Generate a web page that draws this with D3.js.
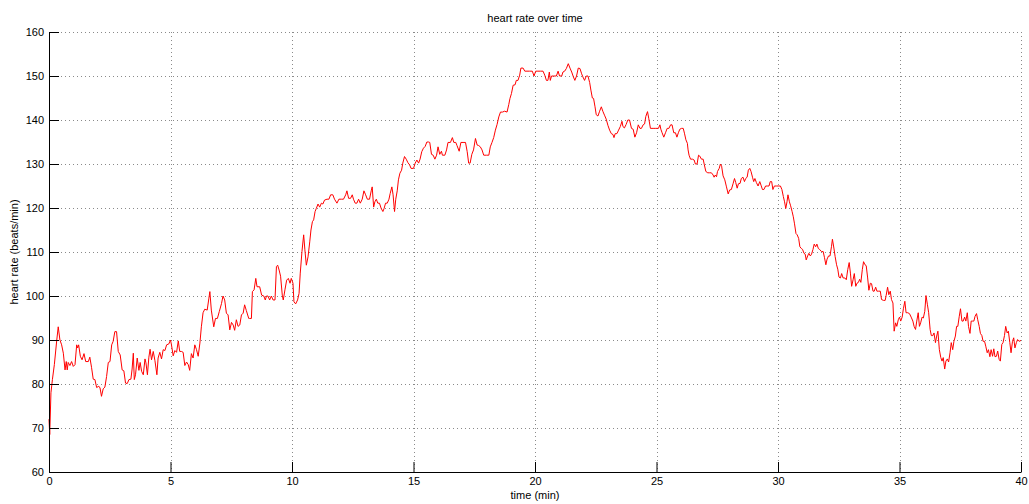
<!DOCTYPE html>
<html>
<head>
<meta charset="utf-8">
<script src="https://cdn.jsdelivr.net/npm/d3@7"></script>
<style>
  html, body { margin: 0; padding: 0; background: #fff; }
  svg { display: block; font-family: "Liberation Sans", Arial, Helvetica, sans-serif; }
</style>
</head>
<body>
<svg id="chart" width="1029" height="504"></svg>
<script>
// Heart rate recording: time in minutes and beats per minute
const timeMin = [
  0, 0.03, 0.08, 0.14, 0.22, 0.32, 0.38, 0.45, 0.52, 0.59, 0.66, 0.71, 0.75, 0.79, 0.86, 0.93, 1.0, 1.07, 1.14, 1.18,
  1.22, 1.29, 1.36, 1.44, 1.51, 1.62, 1.68, 1.75, 1.82, 1.89, 1.96, 2.05, 2.1, 2.16, 2.23, 2.3, 2.37, 2.44, 2.51, 2.58,
  2.64, 2.71, 2.78, 2.85, 2.93, 3.01, 3.08, 3.15, 3.22, 3.29, 3.37, 3.42, 3.47, 3.51, 3.56, 3.63, 3.7, 3.75, 3.81, 3.88,
  3.95, 3.99, 4.05, 4.11, 4.16, 4.22, 4.29, 4.36, 4.44, 4.49, 4.56, 4.63, 4.7, 4.77, 4.84, 4.93, 5.0, 5.04, 5.11, 5.18,
  5.25, 5.32, 5.38, 5.45, 5.52, 5.59, 5.66, 5.73, 5.79, 5.86, 5.93, 6.0, 6.07, 6.14, 6.21, 6.27, 6.34, 6.41, 6.51, 6.58,
  6.62, 6.68, 6.78, 6.85, 6.93, 7.01, 7.1, 7.16, 7.23, 7.3, 7.37, 7.44, 7.51, 7.58, 7.64, 7.71, 7.78, 7.85, 7.92, 7.99,
  8.05, 8.12, 8.22, 8.26, 8.33, 8.37, 8.44, 8.51, 8.56, 8.67, 8.75, 8.84, 8.9, 8.95, 9.01, 9.08, 9.15, 9.22, 9.3, 9.36,
  9.41, 9.47, 9.53, 9.6, 9.64, 9.71, 9.78, 9.85, 9.92, 9.97, 10.04, 10.08, 10.15, 10.23, 10.29, 10.34, 10.41, 10.48, 10.53, 10.59,
  10.66, 10.73, 10.78, 10.84, 10.89, 10.95, 11.0, 11.07, 11.14, 11.21, 11.27, 11.34, 11.44, 11.52, 11.59, 11.68, 11.75, 11.85, 11.93, 12.03,
  12.12, 12.21, 12.26, 12.33, 12.41, 12.48, 12.53, 12.6, 12.67, 12.74, 12.81, 12.89, 12.96, 13.03, 13.1, 13.19, 13.26, 13.3, 13.36, 13.41,
  13.47, 13.53, 13.6, 13.67, 13.74, 13.79, 13.85, 13.92, 13.99, 14.04, 14.11, 14.16, 14.22, 14.27, 14.33, 14.38, 14.44, 14.51, 14.56, 14.63,
  14.7, 14.77, 14.84, 14.9, 15.0, 15.07, 15.14, 15.21, 15.27, 15.34, 15.41, 15.48, 15.55, 15.62, 15.67, 15.74, 15.81, 15.88, 15.95, 16.01,
  16.08, 16.15, 16.19, 16.29, 16.36, 16.42, 16.52, 16.6, 16.66, 16.74, 16.79, 16.88, 16.95, 17.04, 17.14, 17.21, 17.27, 17.33, 17.4, 17.47,
  17.55, 17.62, 17.68, 17.75, 17.82, 17.89, 18.0, 18.1, 18.16, 18.23, 18.3, 18.37, 18.44, 18.51, 18.58, 18.66, 18.75, 18.85, 18.92, 18.97,
  19.03, 19.1, 19.18, 19.23, 19.3, 19.37, 19.42, 19.51, 19.58, 19.67, 19.78, 19.89, 19.96, 20.03, 20.12, 20.23, 20.33, 20.4, 20.47, 20.53,
  20.59, 20.63, 20.68, 20.77, 20.88, 20.95, 21.01, 21.1, 21.15, 21.22, 21.29, 21.37, 21.44, 21.51, 21.58, 21.64, 21.71, 21.78, 21.85, 21.92,
  21.97, 22.04, 22.11, 22.18, 22.25, 22.3, 22.36, 22.41, 22.47, 22.52, 22.59, 22.66, 22.73, 22.79, 22.86, 22.93, 23.0, 23.07, 23.14, 23.21,
  23.25, 23.3, 23.37, 23.44, 23.51, 23.58, 23.62, 23.68, 23.75, 23.82, 23.89, 23.97, 24.04, 24.11, 24.18, 24.25, 24.32, 24.38, 24.45, 24.51,
  24.56, 24.63, 24.68, 24.75, 24.86, 24.97, 25.08, 25.14, 25.18, 25.23, 25.3, 25.37, 25.44, 25.51, 25.58, 25.64, 25.71, 25.78, 25.84, 25.9,
  25.96, 26.03, 26.1, 26.15, 26.21, 26.27, 26.3, 26.34, 26.4, 26.48, 26.55, 26.6, 26.67, 26.73, 26.78, 26.85, 26.92, 26.97, 27.03, 27.11,
  27.19, 27.26, 27.33, 27.37, 27.42, 27.47, 27.51, 27.58, 27.63, 27.68, 27.74, 27.81, 27.88, 27.95, 28.01, 28.08, 28.15, 28.21, 28.26, 28.32,
  28.37, 28.44, 28.49, 28.56, 28.62, 28.67, 28.73, 28.78, 28.84, 28.89, 28.95, 29.0, 29.05, 29.11, 29.18, 29.25, 29.3, 29.36, 29.42, 29.49,
  29.56, 29.63, 29.68, 29.74, 29.79, 29.85, 29.93, 30.01, 30.1, 30.16, 30.22, 30.27, 30.32, 30.37, 30.41, 30.47, 30.52, 30.58, 30.63, 30.68,
  30.74, 30.79, 30.85, 30.9, 30.96, 31.01, 31.07, 31.12, 31.16, 31.22, 31.27, 31.33, 31.38, 31.44, 31.49, 31.55, 31.6, 31.66, 31.71, 31.79,
  31.86, 31.91, 31.97, 32.02, 32.08, 32.14, 32.2, 32.24, 32.3, 32.35, 32.41, 32.46, 32.51, 32.57, 32.62, 32.68, 32.75, 32.81, 32.87, 32.93,
  32.98, 33.03, 33.09, 33.14, 33.2, 33.25, 33.31, 33.36, 33.41, 33.47, 33.52, 33.58, 33.63, 33.69, 33.74, 33.8, 33.85, 33.91, 33.96, 34.02,
  34.07, 34.13, 34.21, 34.26, 34.34, 34.41, 34.45, 34.51, 34.56, 34.62, 34.67, 34.73, 34.78, 34.84, 34.89, 34.95, 35.0, 35.05, 35.11, 35.16,
  35.22, 35.27, 35.34, 35.41, 35.48, 35.55, 35.6, 35.66, 35.71, 35.77, 35.82, 35.87, 35.93, 35.98, 36.04, 36.09, 36.15, 36.2, 36.26, 36.31,
  36.37, 36.42, 36.48, 36.53, 36.58, 36.64, 36.7, 36.75, 36.8, 36.86, 36.91, 36.97, 37.02, 37.08, 37.13, 37.19, 37.24, 37.3, 37.35, 37.4,
  37.46, 37.51, 37.57, 37.62, 37.68, 37.73, 37.79, 37.84, 37.9, 37.95, 38.01, 38.06, 38.11, 38.17, 38.22, 38.28, 38.33, 38.39, 38.44, 38.5,
  38.55, 38.61, 38.66, 38.72, 38.77, 38.83, 38.88, 38.93, 38.99, 39.04, 39.1, 39.15, 39.21, 39.26, 39.32, 39.37, 39.43, 39.48, 39.54, 39.59,
  39.65, 39.7, 39.75, 39.81, 39.86, 39.92, 40.0
];
const heartRate = [
  72, 68.5, 78, 81, 84.4, 90, 93, 90, 88.9, 87, 83.2, 85.1, 83.2, 84.9, 84.2, 85.1, 84, 84.4, 88.9, 88.2,
  88.9, 86.3, 85.5, 86.9, 85.1, 85.1, 86.1, 83.8, 81.1, 81, 79.2, 79.5, 79.1, 77.2, 78.9, 79.3, 81.7, 84.9, 85.1, 88.9,
  89.7, 91.9, 91.9, 87.4, 86.6, 83.2, 83, 80.2, 80.1, 81, 81.1, 83.4, 87, 81, 82.1, 85.9, 83.1, 84.9, 82.9, 82.1,
  85.7, 84.8, 82.1, 86.1, 87.9, 85.5, 87.4, 85.3, 82.1, 85.9, 87.2, 85.7, 87.8, 87.6, 88.9, 89.1, 90, 88.9, 86.4, 87.6,
  87.2, 89.8, 87.4, 87.4, 87.2, 84.2, 85, 84.4, 83.1, 86.9, 85.9, 88.9, 87.8, 86.3, 89.3, 93, 96.2, 97, 96.8, 99.5,
  101, 96.8, 93, 94.9, 94.9, 96.5, 98.3, 100, 99.1, 96.1, 95.7, 92.3, 94, 93.4, 92.2, 94.6, 93.1, 93.4, 95.7, 96.1,
  98, 96.7, 94.9, 94.9, 94.9, 101, 101.4, 104, 102.1, 102.1, 100.2, 100, 99.1, 100, 100, 99.1, 100, 99.1, 99.1, 106.7,
  107, 105.9, 104.5, 100.2, 99.1, 101.4, 103.6, 104, 102.9, 104, 102.9, 98.7, 98.2, 99.1, 100.6, 105.2, 110.1, 113.9, 110.5, 107,
  108.9, 112.3, 115, 116.9, 117.3, 119.2, 119.9, 120.9, 120.2, 121.1, 120.9, 121.8, 122, 122, 123, 123, 122, 121.1, 122, 122,
  122, 123, 123.9, 122.2, 122.2, 123, 122, 121.1, 121.1, 122, 121.1, 122, 123.9, 123, 122, 122, 123.9, 124.8, 120.2, 121.4,
  122, 121.1, 121.1, 119.9, 119.2, 119.9, 121.1, 121.1, 122, 123.3, 124.8, 123, 119.2, 122, 123.9, 126.4, 127.9, 128.6, 130.2, 131.7,
  131.1, 130.3, 129.8, 129, 129, 130.2, 130.9, 130.2, 131.1, 132.8, 133.6, 134, 135, 135, 134.9, 132.2, 132, 131.1, 132, 133.9,
  132.2, 132.9, 132, 132, 133.2, 134.9, 134.9, 136, 134.9, 134.9, 134.2, 132.9, 134.9, 134.9, 134.9, 132.8, 130.2, 130.2, 132.2, 133.2,
  135.8, 134.3, 134.2, 133.9, 133.2, 132, 132, 132, 133.9, 134.9, 136, 137.7, 139, 140.7, 141.8, 141.8, 142, 141.8, 143.5, 144.9,
  146, 147.9, 148, 149, 149, 150.2, 151.8, 151.8, 151.1, 151.1, 151.1, 151.1, 150, 151.1, 151.1, 151.1, 151.1, 150.2, 149, 149,
  150.9, 149, 150, 150, 150, 151.1, 150, 150, 150.9, 151.1, 151.7, 152.8, 151.8, 150.9, 149.8, 149, 150, 151.8, 151.7, 150.5,
  149.8, 149, 150, 150, 148.5, 146.8, 145, 144.9, 143, 141.2, 140.9, 142, 143, 142, 141.1, 140.2, 138.8, 137.7, 136.9, 136.7,
  136, 136.9, 136.9, 137.7, 138.5, 139.7, 138.5, 138.2, 139, 140, 140, 138.1, 137.9, 136.1, 137.1, 138.9, 138.1, 138.1, 138.9, 139.1,
  140.8, 141.9, 140.4, 138.1, 138.1, 138.1, 138.1, 138.9, 137.9, 137.1, 136.1, 137.1, 138.1, 138.1, 138.9, 138.9, 137.1, 137.1, 136.1, 137.1,
  137.9, 138.1, 138.1, 137, 135.5, 134.7, 133.2, 132, 131.1, 131.1, 130.9, 130, 130, 132, 131.8, 131.1, 131.1, 129.8, 128.3, 128,
  128, 128, 127.5, 127, 127.5, 127.1, 128.3, 129, 130, 129.5, 127.3, 126.4, 124.8, 123.2, 124.1, 124.2, 125.5, 126.7, 125.8, 124.5,
  125.5, 125.6, 126.7, 127, 126, 126.7, 127, 128.6, 129, 128.3, 127, 126, 126.7, 125.8, 125, 126, 125.2, 124.2, 124.2, 125,
  125, 125, 126, 126, 124.2, 125, 125, 125, 125, 124.2, 122.6, 121.4, 119.9, 121.4, 123, 121.4, 120.5, 119.2, 118, 116.4,
  114.2, 113.9, 113.1, 111.2, 110.8, 110.6, 109.7, 109.5, 108.2, 109.1, 109.7, 109.1, 109.5, 110.6, 111.8, 111.2, 111.8, 110.8, 110.6, 110.1,
  110.1, 108.8, 107.1, 108.4, 109.1, 109.1, 111.2, 112.9, 110.9, 109, 107.1, 106.1, 104.3, 104.1, 105.1, 104.1, 104.1, 103.7, 106, 107.6,
  105.2, 102.2, 103.7, 105.1, 102.2, 102.9, 103.1, 103.8, 103.1, 106, 107.8, 107.1, 106.9, 104.1, 101.3, 102.9, 102.8, 101.1, 101.1, 102,
  101.1, 101.1, 101.1, 99.2, 99, 99, 100.1, 102, 100.3, 101.1, 99.2, 98.4, 92, 93.9, 93.1, 94.6, 95.2, 94.3, 95.2, 97.1,
  98.8, 96.2, 96.2, 96, 95.2, 94.3, 93.1, 92.4, 94.3, 96.2, 93.1, 93.9, 95.2, 95, 96.5, 100.1, 98, 96.2, 92.4, 91,
  91, 91.6, 89.4, 90.9, 92, 87.8, 86, 85.2, 86, 83.4, 85.2, 85.7, 85, 87.1, 89.4, 87.8, 89.7, 90.9, 93.1, 93.1,
  95.4, 97.1, 94.3, 94.3, 95.2, 94.3, 96.2, 93.1, 91.5, 94.3, 94.3, 94.3, 95.4, 96, 94.6, 93.1, 91.5, 91, 89.7, 89.7,
  88.6, 87.1, 87.8, 86.2, 87.8, 86.3, 88, 86.2, 86.3, 87.5, 85.6, 85.2, 89, 89.4, 91, 93.1, 91.6, 92, 89.4, 87.1,
  89.7, 90.5, 88.2, 89.4, 90.1, 89.7, 89.9
];

const xTicks = [0, 5, 10, 15, 20, 25, 30, 35, 40];
const yTicks = [60, 70, 80, 90, 100, 110, 120, 130, 140, 150, 160];

const titleText = "heart rate over time";
const xLabelText = "time (min)";
const yLabelText = "heart rate (beats/min)";

const svg = d3.select("#chart");
const W = 1029, H = 504;
const margin = { left: 49, right: 8, top: 32, bottom: 32 };
const plotW = W - margin.left - margin.right;
const plotH = H - margin.top - margin.bottom;

const x = d3.scaleLinear().domain([0, 40]).range([0, plotW]);
const y = d3.scaleLinear().domain([60, 160]).range([plotH, 0]);

const g = svg.append("g").attr("transform", `translate(${margin.left},${margin.top})`);

// dotted grid
const grid = g.append("g").attr("stroke", "#8a8a8a").attr("stroke-width", 1)
  .attr("stroke-dasharray", "1,3").attr("shape-rendering", "crispEdges");
grid.selectAll("line.gx").data(xTicks.filter(d => d > 0)).join("line")
  .attr("x1", d => Math.round(x(d)) + 0.5).attr("x2", d => Math.round(x(d)) + 0.5)
  .attr("y1", 0).attr("y2", plotH);
grid.selectAll("line.gy").data(yTicks.filter(d => d > 60)).join("line")
  .attr("y1", d => Math.round(y(d)) + 0.5).attr("y2", d => Math.round(y(d)) + 0.5)
  .attr("x1", 0).attr("x2", plotW);

// heart rate trace
const series = timeMin.map((t, i) => [t, heartRate[i]]);
const line = d3.line().x(d => x(d[0])).y(d => y(d[1]));
g.append("path").datum(series)
  .attr("fill", "none").attr("stroke", "#ff0000").attr("stroke-width", 1)
  .attr("stroke-linejoin", "round")
  .attr("d", line);

// axes with inward ticks
const fontSize = 11;
const xAxis = g.append("g").attr("transform", `translate(0,${plotH})`)
  .call(d3.axisBottom(x).tickValues(xTicks).tickFormat(d3.format("d"))
    .tickSizeInner(-10).tickSizeOuter(0).tickPadding(5));
const yAxis = g.append("g")
  .call(d3.axisLeft(y).tickValues(yTicks).tickFormat(d3.format("d"))
    .tickSizeInner(-10).tickSizeOuter(0).tickPadding(5));

[xAxis, yAxis].forEach(a => {
  a.selectAll("path.domain").attr("stroke", "#000").attr("stroke-width", 1);
  a.selectAll(".tick line").attr("stroke", "#000").attr("stroke-width", 1);
  a.selectAll(".tick text").attr("fill", "#000")
    .style("font-family", "'Liberation Sans', Arial, sans-serif").style("font-size", fontSize + "px");
});

// titles
svg.append("text").attr("x", margin.left + plotW / 2).attr("y", 22)
  .attr("text-anchor", "middle").style("font-size", "11px").attr("fill", "#000").text(titleText);
svg.append("text").attr("x", margin.left + plotW / 2).attr("y", 499)
  .attr("text-anchor", "middle").style("font-size", "11px").attr("fill", "#000").text(xLabelText);
svg.append("text")
  .attr("transform", `translate(18,${margin.top + plotH / 2}) rotate(-90)`)
  .attr("text-anchor", "middle").style("font-size", "11px").attr("fill", "#000").text(yLabelText);
</script>
</body>
</html>
